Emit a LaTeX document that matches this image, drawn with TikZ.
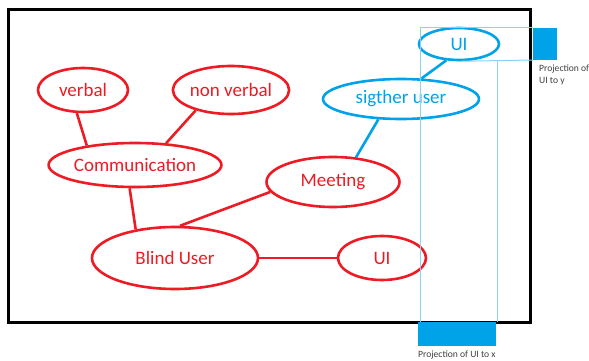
\documentclass[tikz,border=0pt]{standalone}
\usepackage{fontspec}
\setmainfont{Carlito}
\usetikzlibrary{shapes.geometric}
\definecolor{paintred}{RGB}{237,28,36}
\definecolor{paintblue}{RGB}{0,162,232}
\definecolor{projline}{RGB}{140,210,240}
\definecolor{notegray}{RGB}{64,64,64}
\tikzset{
  bubble/.style={ellipse, draw, line width=2.6pt, inner sep=0pt,
    font=\fontsize{19}{21}\selectfont},
  redbubble/.style={bubble, draw=paintred, text=paintred},
  bluebubble/.style={bubble, draw=paintblue, text=paintblue},
  redlink/.style={draw=paintred, line width=2.6pt},
  bluelink/.style={draw=paintblue, line width=2.6pt},
  proj/.style={draw=projline, line width=1pt},
  projbox/.style={fill=paintblue},
  note/.style={text=notegray, font=\fontsize{9.6}{11.5}\selectfont, inner sep=0pt, anchor=north west, align=left}
}
\begin{document}
\begin{tikzpicture}[x=1pt, y=-1pt]
\useasboundingbox (0,0) rectangle (589,361);
\fill[white] (0,0) rectangle (589,361);

% frame
\draw[line width=3pt] (8,10) rectangle (530,322);

% red mind map
\node[redbubble, minimum width=90pt, minimum height=44pt] (verbal) at (83,90) {verbal};
\node[redbubble, minimum width=114pt, minimum height=48pt] (nonverbal) at (231,90) {non verbal};
\node[redbubble, minimum width=154pt, minimum height=44pt] (comm) at (135,165) {Communication};
\node[redbubble, minimum width=133pt, minimum height=50pt] (meeting) at (333,182) {Meeting};
\node[redbubble, minimum width=166pt, minimum height=62pt] (blind) at (175,258) {Blind User};
\node[redbubble, minimum width=88pt, minimum height=44pt] (uired) at (382,258) {UI};

% blue branch
\node[bluebubble, minimum width=156pt, minimum height=40pt] (sighted) at (401,99) {sigther user};
\node[bluebubble, minimum width=80pt, minimum height=32pt] (uiblue) at (459,44) {UI};

% connectors
\draw[redlink] (verbal.255) -- (comm.158);
\draw[redlink] (nonverbal.210) -- (comm.35);
\draw[redlink] (comm.257) -- (blind.144);
\draw[redlink] (blind.81) -- (meeting.189);
\draw[redlink] (blind.east) -- (uired.west);
\draw[bluelink] (meeting.47) -- (sighted.222);
\draw[bluelink] (sighted.45) -- (uiblue.232);

% projections of the blue UI box
\coordinate (py1) at (533,28);
\coordinate (py2) at (557,60);
\coordinate (px1) at (418,322);
\coordinate (px2) at (496,346);
\draw[proj] (420,28) -- (py1);
\draw[proj] (uiblue.south) -- (533,60);
\draw[proj] (420,28) -- (420,322);
\draw[proj] (497,60) -- (497,322);
\fill[projbox] (py1) rectangle (py2);
\fill[projbox] (px1) rectangle (px2);

\node[note] (ynote) at (539,65) {Projection of\\UI to y};
\node[note] (xnote) at (418,351) {Projection of UI to x};
\end{tikzpicture}
\end{document}
